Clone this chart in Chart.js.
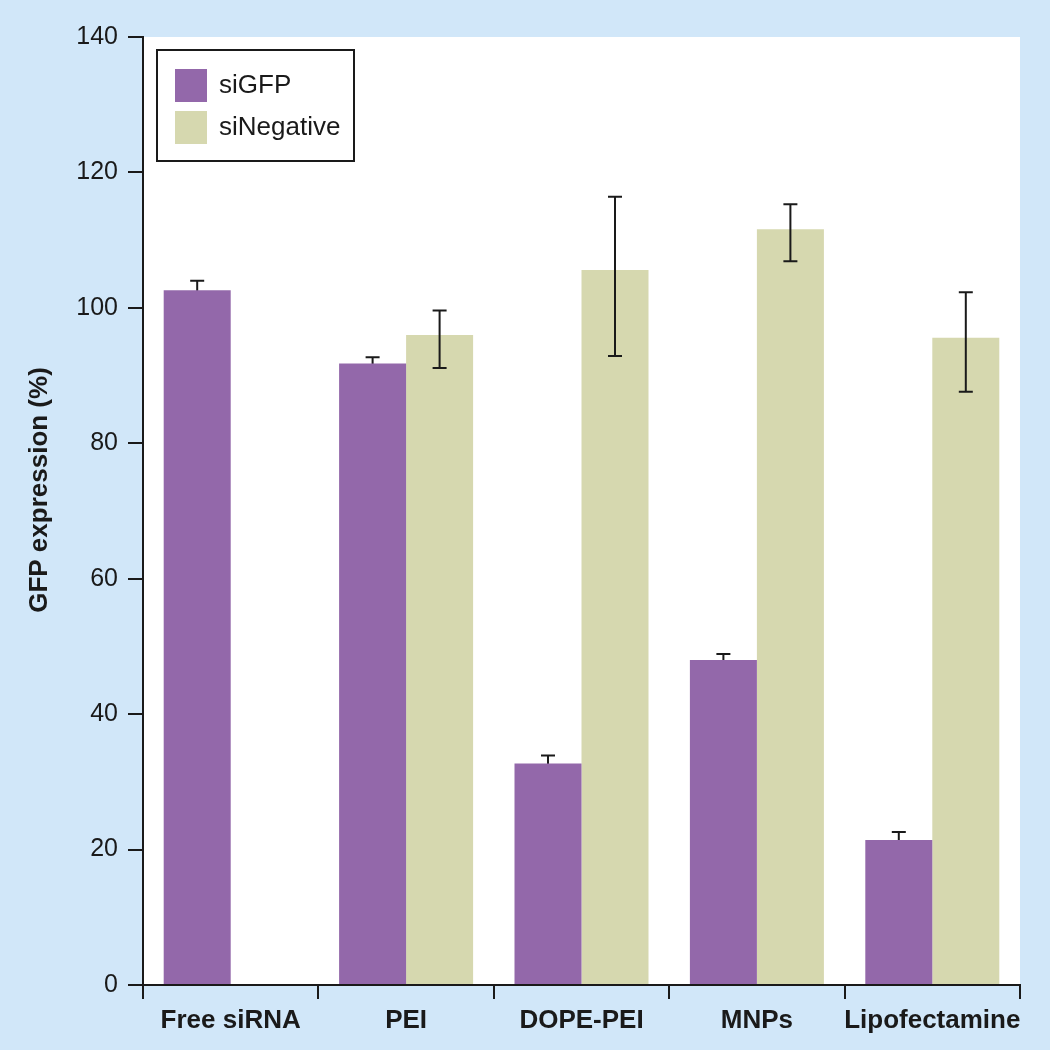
<!DOCTYPE html>
<html>
<head>
<meta charset="utf-8">
<script src="https://cdn.jsdelivr.net/npm/chart.js@4/dist/chart.umd.min.js"></script>
<style>
  html, body { margin: 0; padding: 0; background: #d1e7f9; }
</style>
</head>
<body>
<canvas id="chart" width="1050" height="1050"></canvas>
<script>
// data
const categories = ["Free siRNA", "PEI", "DOPE-PEI", "MNPs", "Lipofectamine"]
const siGFP = [102.6, 91.8, 32.7, 48.0, 21.4]
const siGFPErrHigh = [1.4, 0.9, 1.2, 0.9, 1.2]
const siGFPErrLow = [1.4, 0.9, 1.2, 0.9, 1.2]
const siNegative = [null, 96.0, 105.6, 111.6, 95.6]
const siNegativeErrHigh = [null, 3.6, 10.8, 3.7, 6.7]
const siNegativeErrLow = [null, 4.9, 12.7, 4.7, 8.0]
const yTicks = [0, 20, 40, 60, 80, 100, 120, 140]

const FONT = "'Liberation Sans', Arial, Helvetica, sans-serif"
const BLUE = "#d1e7f9"
const PURPLE = "#9368aa"
const OLIVE = "#d6d8af"
const INK = "#1a1a1a"

const errors = [
  { high: siGFPErrHigh, low: siGFPErrLow },
  { high: siNegativeErrHigh, low: siNegativeErrLow },
]

function drawErrors(chart, di) {
  const ctx = chart.ctx
  const yScale = chart.scales.y
  const meta = chart.getDatasetMeta(di)
  const values = chart.data.datasets[di].data
  ctx.save()
  ctx.strokeStyle = INK
  ctx.lineWidth = 2
  values.forEach((v, i) => {
    if (v == null) return
    const x = meta.data[i].x
    const top = yScale.getPixelForValue(v + errors[di].high[i])
    const bot = yScale.getPixelForValue(v - errors[di].low[i])
    ctx.beginPath()
    ctx.moveTo(x, top)
    ctx.lineTo(x, bot)
    ctx.moveTo(x - 7, top)
    ctx.lineTo(x + 7, top)
    ctx.moveTo(x - 7, bot)
    ctx.lineTo(x + 7, bot)
    ctx.stroke()
  })
  ctx.restore()
}

// siGFP error bars sit behind the bars, siNegative ones on top
const errorBars = {
  id: "errorBars",
  beforeDatasetsDraw(chart) { drawErrors(chart, 0) },
  afterDatasetsDraw(chart) { drawErrors(chart, 1) },
}

const panel = {
  id: "panel",
  beforeDraw(chart) {
    const { ctx, chartArea: a } = chart
    ctx.save()
    ctx.fillStyle = BLUE
    ctx.fillRect(0, 0, chart.width, chart.height)
    ctx.fillStyle = "#ffffff"
    ctx.fillRect(a.left, a.top, a.right - a.left, a.bottom - a.top)
    ctx.restore()
  },
  afterDraw(chart) {
    const ctx = chart.ctx
    ctx.save()
    // y axis title
    ctx.translate(40, 490)
    ctx.rotate(-Math.PI / 2)
    ctx.fillStyle = INK
    ctx.font = "bold 26px " + FONT
    ctx.textAlign = "center"
    ctx.textBaseline = "middle"
    ctx.fillText("GFP expression (%)", 0, 0)
    ctx.restore()

    // boxed legend
    ctx.save()
    ctx.fillStyle = "#ffffff"
    ctx.fillRect(157, 50, 197, 111)
    ctx.strokeStyle = INK
    ctx.lineWidth = 2
    ctx.strokeRect(157, 50, 197, 111)
    ctx.font = "26px " + FONT
    ctx.textBaseline = "middle"
    chart.data.datasets.forEach((ds, i) => {
      const y = 69 + i * 42
      ctx.fillStyle = ds.backgroundColor
      ctx.fillRect(175, y, 32, 33)
      ctx.fillStyle = INK
      ctx.fillText(ds.label, 219, y + 17)
    })
    ctx.restore()
  },
}

new Chart(document.getElementById("chart"), {
  type: "bar",
  data: {
    labels: categories,
    datasets: [
      { label: "siGFP", data: siGFP, backgroundColor: PURPLE },
      { label: "siNegative", data: siNegative, backgroundColor: OLIVE },
    ],
  },
  options: {
    responsive: false,
    animation: false,
    devicePixelRatio: 1,
    layout: { padding: { left: 0, right: 30, top: 37, bottom: 0 } },
    datasets: { bar: { barPercentage: 1, categoryPercentage: 0.764 } },
    plugins: { legend: { display: false }, tooltip: { enabled: false } },
    scales: {
      x: {
        afterFit: (s) => { s.height = 65 },
        grid: { offset: true, drawOnChartArea: false, tickLength: 14, color: INK, lineWidth: 2 },
        border: { color: INK, width: 2 },
        ticks: {
          color: INK, padding: 6, autoSkip: false, maxRotation: 0, minRotation: 0,
          font: { family: FONT, size: 26, weight: "bold" },
        },
      },
      y: {
        min: 0,
        max: 140,
        afterFit: (s) => { s.width = 143 },
        afterBuildTicks: (s) => { s.ticks = yTicks.map((v) => ({ value: v })) },
        grid: { drawOnChartArea: false, tickLength: 15, color: INK, lineWidth: 2 },
        border: { color: INK, width: 2 },
        ticks: { color: INK, padding: 10, font: { family: FONT, size: 25 } },
      },
    },
  },
  plugins: [panel, errorBars],
})
</script>
</body>
</html>
